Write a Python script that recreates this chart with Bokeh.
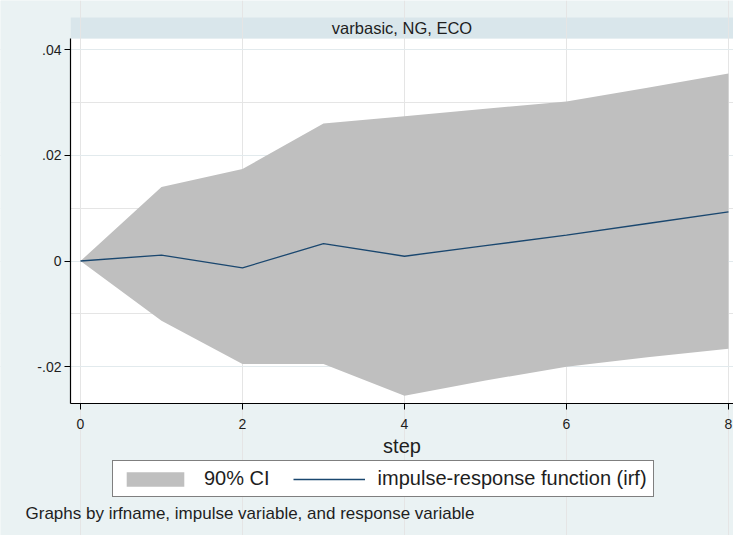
from bokeh.plotting import figure
from bokeh.models import (Range1d, FixedTicker, Legend, LegendItem, Label,
                          BoxAnnotation, ColumnDataSource, LinearAxis, Grid)
from bokeh.embed import file_html
from bokeh.resources import INLINE

# ---- data ----
steps = [0, 1, 2, 3, 4, 5, 6, 7, 8]
irf = [0.0, 0.0011, -0.0013, 0.0033, 0.0009, 0.0029, 0.0049, 0.0071, 0.0093]
ci_upper = [0.0, 0.0140, 0.0174, 0.0260, 0.0274, 0.0288, 0.0302, 0.0328, 0.0355]
ci_lower = [0.0, -0.0113, -0.0195, -0.0195, -0.0255, -0.0226, -0.0200, -0.0182, -0.0166]

y_ticks = [-0.02, 0.0, 0.02, 0.04]
y_tick_labels = ["-.02", "0", ".02", ".04"]
x_ticks = [0, 2, 4, 6, 8]

panel_title = "varbasic, NG, ECO"
x_label = "step"
legend_labels = ["90% CI", "impulse-response function (irf)"]
footer = "Graphs by irfname, impulse variable, and response variable"

# ---- styling / layout ----
FONT = "Liberation Sans"
BG = "#EAF2F3"
STRIP = "#D9E6EB"
FILL = "#BFBFBF"
NAVY = "#1A476F"
TXT = "#1E1E1E"

W, H = 733, 535
# the frame covers the whole canvas; the plot region sits inside it
X_START, X_END = -0.9877, 8.062
Y_START, Y_END = -0.05193, 0.04929
PLOT_LEFT = -0.1235
PLOT_BOTTOM = -0.02696
PLOT_TOP = 0.0421
STRIP_TOP = 0.04607

src = ColumnDataSource(dict(step=steps, irf=irf, lo=ci_lower, hi=ci_upper))

p = figure(width=W, height=H, x_range=Range1d(X_START, X_END),
           y_range=Range1d(Y_START, Y_END),
           x_axis_location=None, y_axis_location=None,
           output_backend="svg", toolbar_location=None,
           min_border=0)
p.background_fill_color = BG
p.border_fill_color = BG
p.outline_line_color = None

# white plot region and strip header
p.add_layout(BoxAnnotation(left=PLOT_LEFT, bottom=PLOT_BOTTOM, top=PLOT_TOP,
                           fill_color="white", fill_alpha=1.0, line_color=None,
                           level="image"))
p.add_layout(BoxAnnotation(left=PLOT_LEFT, bottom=PLOT_TOP, top=STRIP_TOP,
                           fill_color=STRIP, fill_alpha=1.0, line_color=None,
                           level="image"))
p.add_layout(Label(x=(PLOT_LEFT + X_END) / 2, y=(PLOT_TOP + STRIP_TOP) / 2,
                   text=panel_title, text_align="center", text_baseline="middle",
                   text_font=FONT, text_font_size="16.5px", text_color=TXT))

# grid (kept inside the plot region)
p.add_layout(Grid(dimension=1, ticker=FixedTicker(ticks=y_ticks),
                  grid_line_color="#E2EAED", grid_line_width=1))
p.add_layout(BoxAnnotation(right=PLOT_LEFT, fill_color=BG, fill_alpha=1.0,
                           line_color=None, level="underlay"))

area = p.varea(x="step", y1="lo", y2="hi", source=src, fill_color=FILL, fill_alpha=1.0)
line = p.line(x="step", y="irf", source=src, line_color=NAVY, line_width=1.3)

# axes at fixed locations
xaxis = LinearAxis(fixed_location=PLOT_BOTTOM, bounds=(PLOT_LEFT, X_END),
                   ticker=FixedTicker(ticks=x_ticks), axis_label=x_label)
yaxis = LinearAxis(fixed_location=PLOT_LEFT, bounds=(PLOT_BOTTOM, PLOT_TOP),
                   ticker=FixedTicker(ticks=y_ticks))
yaxis.major_label_overrides = {t: l for t, l in zip(y_ticks, y_tick_labels)}
for ax in (xaxis, yaxis):
    ax.axis_line_color = "black"
    ax.axis_line_width = 1.2
    ax.major_tick_line_color = "black"
    ax.major_tick_line_width = 1
    ax.major_tick_out = 6
    ax.major_tick_in = 0
    ax.minor_tick_line_color = None
    ax.major_label_text_font = FONT
    ax.major_label_text_font_size = "14px"
    ax.major_label_text_color = TXT
    ax.major_label_standoff = 3
xaxis.major_label_standoff = 9
xaxis.axis_label_text_font = FONT
xaxis.axis_label_text_font_size = "20px"
xaxis.axis_label_text_font_style = "normal"
xaxis.axis_label_text_color = TXT
xaxis.axis_label_standoff = 3
p.add_layout(xaxis, "below")
p.add_layout(yaxis, "left")

# legend (inside the frame, below the plot region)
legend = Legend(items=[LegendItem(label=legend_labels[0], renderers=[area]),
                       LegendItem(label=legend_labels[1], renderers=[line])],
                orientation="horizontal", location=(112, H - 497),
                glyph_width=72, glyph_height=18, label_standoff=13, spacing=23,
                padding=6, margin=0,
                label_text_font=FONT, label_text_font_size="20px",
                label_text_color=TXT,
                border_line_color="black", border_line_width=1.5,
                background_fill_color="white", background_fill_alpha=1.0)
p.add_layout(legend)

# footer note
p.add_layout(Label(x=25, y=H - 513, x_units="screen", y_units="screen",
                   text=footer, text_baseline="middle", text_font=FONT,
                   text_font_size="17px", text_color=TXT))

open("out.html", "w").write(file_html(p, INLINE))
